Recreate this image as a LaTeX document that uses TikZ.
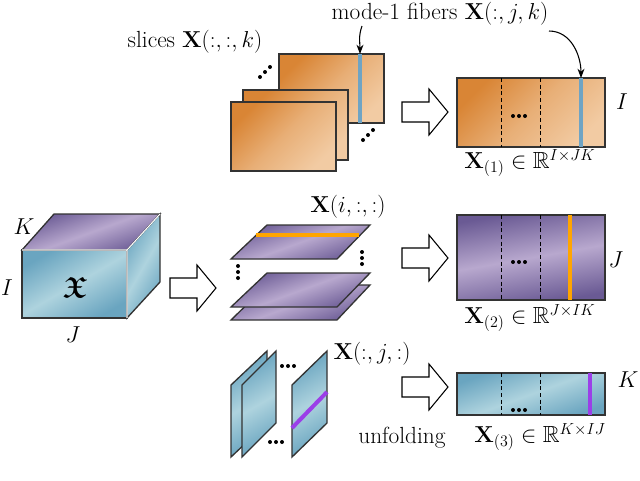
\documentclass[tikz,border=0pt]{standalone}
\usepackage{amsmath,amssymb}
\usetikzlibrary{arrows.meta}
\definecolor{orD}{HTML}{D98535}\definecolor{orL}{HTML}{F2CBA3}
\definecolor{puD}{HTML}{6A5A94}\definecolor{puL}{HTML}{B8A8CE}
\definecolor{blD}{HTML}{6AA5C0}\definecolor{blL}{HTML}{AED3DE}
\definecolor{fibB}{HTML}{6FA4C4}\definecolor{fibO}{HTML}{FFA500}\definecolor{fibP}{HTML}{9B3FE8}
\tikzset{
 or/.style={draw=black!80,line width=1pt,left color=orD,right color=orL,middle color=orD!40!orL,shading angle=45},
 pu/.style={draw=black!80,line width=1pt,left color=puD,right color=puD,middle color=puL,shading angle=20},
 bl/.style={draw=black!80,line width=1pt,left color=blD,right color=blD,middle color=blL,shading angle=30},
 harr/.style={draw=black,line width=0.8pt,fill=white},
 sep line/.style={densely dashed,line width=0.7pt},
 lbl/.style={inner sep=1pt,font=\fontsize{17.5}{20}\selectfont},
 fib/.style={line width=3pt},
 conn/.style={-{Stealth[length=7pt]},line width=0.8pt},
 pt/.style={fill=black}
}
\newcommand\hollowarrow[2]{\draw[harr] (#1,#2-10)--(#1+27,#2-10)--(#1+27,#2-23)--(#1+46,#2)--(#1+27,#2+23)--(#1+27,#2+10)--(#1,#2+10)--cycle;}
\newcommand\threedots[4]{\fill[pt] (#1-#3,#2-#4) circle (2) (#1,#2) circle (2) (#1+#3,#2+#4) circle (2);}
\begin{document}
\begin{tikzpicture}[x=0.75pt,y=-0.75pt]
\useasboundingbox (0,0) rectangle (640,480);
% cube
\shade[bl] (22,250) rectangle (127,318);
\shade[pu] (22,250)--(127,250)--(160,214)--(54,214)--cycle;
\shade[bl,shading angle=60] (127,250)--(160,214)--(160,282)--(127,318)--cycle;
\draw[white,line width=0.8pt] (22,250)--(127,250)--(127,318) (127,250)--(160,214);
\node[lbl,font=\fontsize{22}{24}\selectfont] (cx) at (75,287) {$\boldsymbol{\mathfrak{X}}$};
\node[lbl] (cK) at (24,227) {$K$};
\node[lbl] (cI) at (7,288) {$I$};
\node[lbl] (cJ) at (73,335) {$J$};
\hollowarrow{170}{288}
% top slices
\shade[or] (279,54) rectangle (384,123);
\draw[fibB,fib] (360,54)--(360,123);
\shade[or] (243,90) rectangle (348,160);
\shade[or] (231,102) rectangle (336,171);
\threedots{265}{72}{5}{-5}
\threedots{368}{135}{5}{-5}
\coordinate (f1) at (360,54);
\node[lbl] (slc) at (195,42) {slices $\mathbf{X}(:,:,k)$};
\node[lbl] (mf) at (440,14) {mode-1 fibers $\mathbf{X}(:,j,k)$};
\hollowarrow{402}{112}
\shade[or] (457,78) rectangle (605,147);
\draw[sep line] (501,78)--(501,147) (540,78)--(540,147);
\draw[fibB,fib] (581,78)--(581,147);
\coordinate (f2) at (581,78);
\threedots{519}{116}{6}{0}
\node[lbl] (l1I) at (622,102) {$I$};
\node[lbl] (l1) at (530,163) {$\mathbf{X}_{(1)}\in\mathbb{R}^{I\times JK}$};
\draw[conn] (362,26) to[out=-110,in=90] (f1);
\draw[conn] (549,31) to[out=0,in=90] (f2);
% middle slices
\shade[pu] (231,320)--(337,320)--(370,285)--(267,285)--cycle;
\shade[pu] (231,307)--(337,307)--(370,273)--(267,273)--cycle;
\shade[pu] (231,259)--(337,259)--(370,225)--(267,225)--cycle;
\draw[fibO,fib] (256,235)--(359,235);
\threedots{238}{272}{0}{6}
\threedots{362}{258}{0}{6}
\node[lbl] (l2s) at (348,207) {$\mathbf{X}(i,:,:)$};
\hollowarrow{402}{258}
\shade[pu,shading angle=10] (457,215) rectangle (605,300);
\draw[sep line] (501,215)--(501,300) (540,215)--(540,300);
\draw[fibO,fib] (570,215)--(570,300);
\threedots{519}{262}{6}{0}
\node[lbl] (l2J) at (616,260) {$J$};
\node[lbl] (l2) at (530,318) {$\mathbf{X}_{(2)}\in\mathbb{R}^{J\times IK}$};
% bottom slices
\shade[bl] (231,385)--(231,457)--(267,423)--(267,351)--cycle;
\shade[bl] (242,385)--(242,457)--(276,423)--(276,351)--cycle;
\shade[bl] (292,385)--(292,457)--(327,423)--(327,351)--cycle;
\draw[fibP,fib] (292,428)--(327,392);
\threedots{288}{366}{6}{0}
\threedots{276}{442}{6}{0}
\node[lbl] (l3s) at (372,354) {$\mathbf{X}(:,j,:)$};
\hollowarrow{402}{387}
\shade[bl,shading angle=20] (457,373) rectangle (605,415);
\draw[sep line] (501,373)--(501,415) (540,373)--(540,415);
\draw[fibP,fib] (590,373)--(590,415);
\threedots{519}{410}{6}{0}
\node[lbl] (l3K) at (628,380) {$K$};
\node[lbl] (unf) at (402,438) {unfolding};
\node[lbl] (l3) at (540,437) {$\mathbf{X}_{(3)}\in\mathbb{R}^{K\times IJ}$};
\end{tikzpicture}
\end{document}
